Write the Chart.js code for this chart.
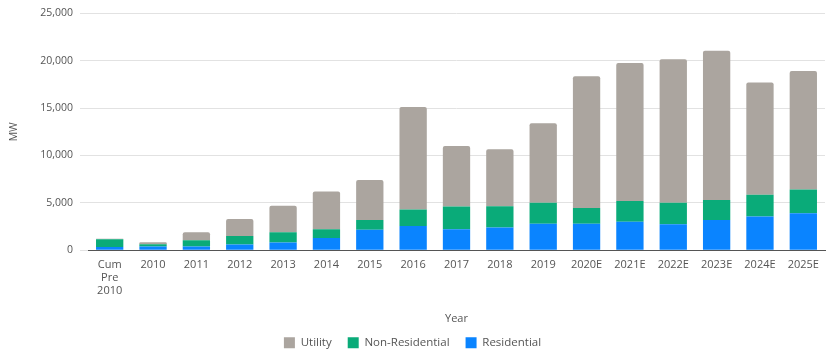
<!DOCTYPE html>
<html>
<head>
<meta charset="utf-8">
<script src="https://cdn.jsdelivr.net/npm/chart.js@4"></script>
<style>
  html, body { margin: 0; padding: 0; background: #fff; }
  #wrap { width: 827px; height: 352px; }
</style>
</head>
<body>
<div id="wrap"><canvas id="grafico"></canvas></div>
<script>
// Categorias (anos) e capacidade instalada por segmento, em MW
const anos = [['Cum', 'Pre', '2010'], '2010', '2011', '2012', '2013', '2014', '2015', '2016',
  '2017', '2018', '2019', '2020E', '2021E', '2022E', '2023E', '2024E', '2025E'];
const residencial = [350, 400, 400, 600, 800, 1300, 2150, 2550, 2200, 2400, 2800, 2800, 3000, 2750, 3200, 3550, 3900];
const naoResidencial = [800, 230, 650, 900, 1100, 900, 1050, 1750, 2400, 2250, 2200, 1650, 2200, 2250, 2100, 2300, 2500];
const utilidade = [50, 200, 850, 1800, 2800, 4000, 4200, 10800, 6400, 6000, 8400, 13900, 14550, 15150, 15750, 11850, 12500];
const ticksY = [0, 5000, 10000, 15000, 20000, 25000];

const fonte = { family: '"Open Sans", sans-serif', size: 11, lineHeight: 1.2 };
const fonteY = { family: '"Open Sans", sans-serif', size: 10.5 };
const fonteLegenda = { family: '"Open Sans", sans-serif', size: 11.5 };
const corTexto = '#555';

// Legenda mais baixa: encurta a caixa que o Chart.js reserva para ela
const ajusteLegenda = {
  id: 'ajusteLegenda',
  beforeInit(chart) {
    const fitOriginal = chart.legend.fit;
    chart.legend.fit = function () {
      fitOriginal.bind(chart.legend)();
      this.height = 31;
    };
  }
};

const ctx = document.getElementById('grafico').getContext('2d');
new Chart(ctx, {
  type: 'bar',
  data: {
    labels: anos,
    datasets: [
      { label: 'Residential', data: residencial, backgroundColor: '#0a84ff' },
      { label: 'Non-Residential', data: naoResidencial, backgroundColor: '#0aab79' },
      { label: 'Utility', data: utilidade, backgroundColor: '#aba59f',
        borderRadius: { topLeft: 2, topRight: 2 }, borderSkipped: 'bottom' }
    ]
  },
  options: {
    responsive: true,
    maintainAspectRatio: false,
    animation: false,
    layout: { padding: { top: 0, right: 2, left: 0, bottom: 0 } },
    datasets: { bar: { categoryPercentage: 1, barPercentage: 0.63 } },
    plugins: {
      tooltip: { enabled: false },
      legend: {
        position: 'bottom',
        reverse: true,
        labels: { font: fonteLegenda, color: corTexto, boxWidth: 11, boxHeight: 11, padding: 16 }
      }
    },
    scales: {
      x: {
        stacked: true,
        grid: { display: false },
        border: { color: '#555' },
        ticks: { font: fonte, color: corTexto, maxRotation: 0, autoSkip: false, padding: 0 },
        title: { display: true, text: 'Year', font: fonte, color: corTexto, padding: { top: 14, bottom: -4 } }
      },
      y: {
        stacked: true,
        min: 0,
        max: 25000,
        afterBuildTicks: scale => { scale.ticks = ticksY.map(v => ({ value: v })); },
        afterFit: scale => { scale.width = 88; },
        grid: { color: '#e2e2e2', lineWidth: 1, tickLength: 8 },
        border: { display: false },
        ticks: {
          font: fonteY, color: corTexto, padding: 7,
          callback: v => v.toLocaleString('en-US')
        },
        title: { display: true, text: 'MW', font: fonteY, color: corTexto, padding: { top: 8, bottom: 0 } }
      }
    }
  },
  plugins: [ajusteLegenda]
});
</script>
</body>
</html>
